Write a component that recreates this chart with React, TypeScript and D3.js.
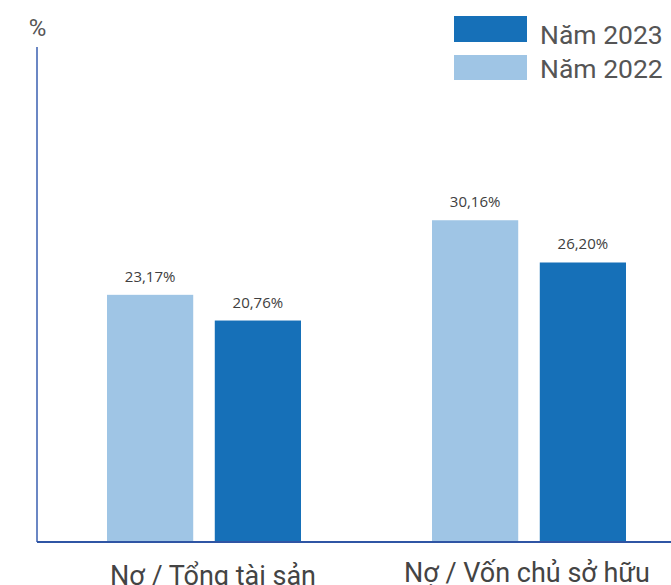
import React from "react";
import * as d3 from "d3";

const categories = ["Nơ / Tổng tài sản", "Nợ / Vốn chủ sở hữu"];
const seriesNames = ["Năm 2022", "Năm 2023"];
const values2022 = [23.17, 30.16];
const values2023 = [20.76, 26.2];
const labels2022 = ["23,17%", "30,16%"];
const labels2023 = ["20,76%", "26,20%"];
const colors = ["#9fc5e5", "#1670b8"];

export default function App() {
  const W = 671, H = 585;
  const baseY = 542, topY = 47, axisX = 37;
  const y = d3.scaleLinear().domain([0, 46.4]).range([baseY, topY]);
  const x0 = d3.scaleBand().domain(categories).range([41.5, 691.5]).padding(0);
  const x1 = d3.scaleBand().domain(seriesNames).range([-97, 97]).paddingInner(0.2);
  const series = [
    { name: seriesNames[0], vals: values2022, labels: labels2022, color: colors[0] },
    { name: seriesNames[1], vals: values2023, labels: labels2023, color: colors[1] },
  ];
  const labelY = [585, 582];
  const labelDx = [9, -2];
  return (
    <svg width={W} height={H} style={{ position: "absolute", left: 0, top: 0, background: "#fff" }}>
      <text x={37.5} y={36} textAnchor="middle" fontFamily="Roboto" fontSize={24} fill="#555">%</text>
      {series.map((s) =>
        categories.map((c, i) => {
          const cx = (x0(c) as number) + x0.bandwidth() / 2;
          const bx = cx + (x1(s.name) as number);
          const yt = y(s.vals[i]);
          return (
            <g key={s.name + c}>
              <rect x={bx} y={yt} width={x1.bandwidth()} height={baseY - yt} fill={s.color} />
              <text x={bx + x1.bandwidth() / 2} y={yt - 13} textAnchor="middle" fontFamily="Open Sans" fontSize={15} fill="#404040">{s.labels[i]}</text>
            </g>
          );
        })
      )}
      <line x1={axisX} x2={axisX} y1={topY} y2={baseY} stroke="#3a5fb0" strokeWidth={1.5} />
      <line x1={axisX} x2={W} y1={baseY} y2={baseY} stroke="#2f55a4" strokeWidth={2} />
      {categories.map((c, i) => (
        <text key={c} x={(x0(c) as number) + x0.bandwidth() / 2 + labelDx[i]} y={labelY[i]} textAnchor="middle" fontFamily="Roboto" fontSize={27} fill="#444">{c}</text>
      ))}
      <rect x={454} y={16} width={73} height={26} fill={colors[1]} />
      <text x={540} y={44} fontFamily="Roboto" fontSize={26.5} fill="#555">{seriesNames[1]}</text>
      <rect x={454} y={55} width={73} height={25} fill={colors[0]} />
      <text x={540} y={78} fontFamily="Roboto" fontSize={26.5} fill="#555">{seriesNames[0]}</text>
    </svg>
  );
}
